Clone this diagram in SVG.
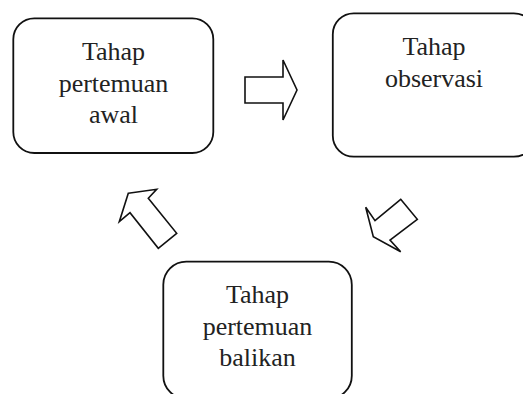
<svg xmlns="http://www.w3.org/2000/svg" width="523" height="394" viewBox="0 0 523 394">
<style>
.box{fill:#fff;stroke:#111;stroke-width:1.8}
.arr{fill:#fff;stroke:#111;stroke-width:1.6;stroke-linejoin:miter}
text{font-family:"Liberation Serif","Times New Roman",serif;font-size:26px;fill:#222;text-anchor:middle}
</style>
<rect width="523" height="394" fill="#fff"/>
<g id="node-awal">
<rect class="box" x="13.3" y="18.3" width="200" height="134.7" rx="21" ry="21"/>
<text x="113.5" y="60">Tahap</text>
<text x="113.5" y="91.7">pertemuan</text>
<text x="113.5" y="123.3">awal</text>
</g>
<g id="node-observasi">
<rect class="box" x="332.8" y="13.3" width="202" height="143.4" rx="21" ry="21"/>
<text x="434" y="55">Tahap</text>
<text x="434" y="87">observasi</text>
</g>
<g id="node-balikan">
<rect class="box" x="163.3" y="261.7" width="188.5" height="137" rx="23" ry="23"/>
<text x="257.5" y="303.3">Tahap</text>
<text x="257.5" y="334.5">pertemuan</text>
<text x="257.5" y="366">balikan</text>
</g>
<g id="connectors">
<polygon class="arr" points="245,77 283,77 283,60 297,90 283,120 283,103 245,103"/>
<polygon class="arr" points="400.7,199.3 417.3,219.3 390,240 400.7,251.7 373.3,236.7 365.7,207.3 375,220.7"/>
<polygon class="arr" points="128.3,193.3 156.7,189.3 148.3,198.3 176.7,233.3 158.3,248.3 130,212.7 119.3,221.7"/>
</g>
</svg>
